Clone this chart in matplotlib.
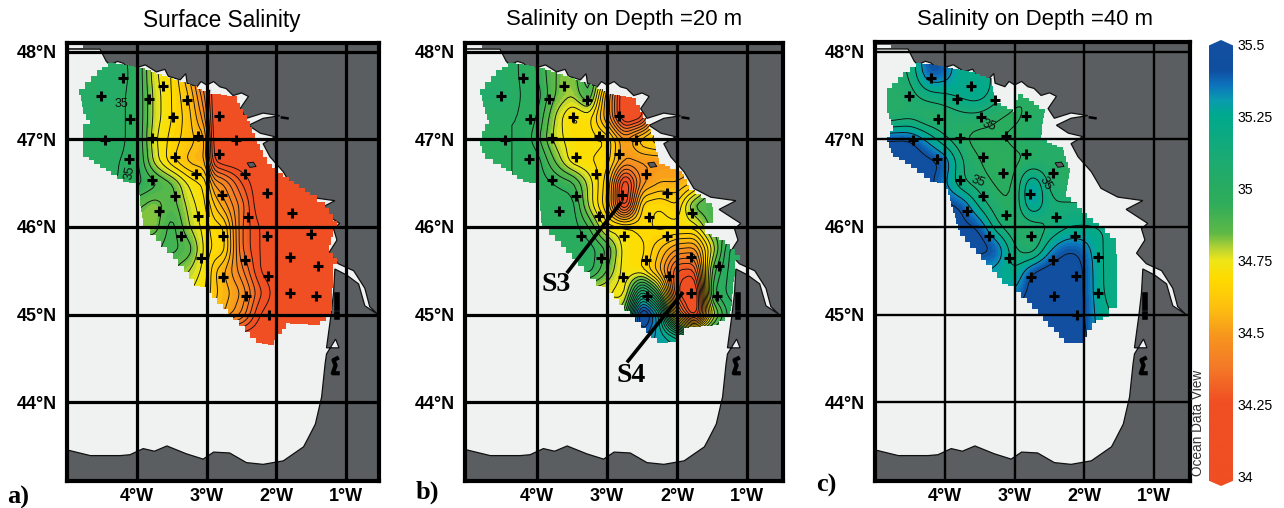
import numpy as np
import matplotlib
matplotlib.use("Agg")
import matplotlib.pyplot as plt
from matplotlib.colors import LinearSegmentedColormap, Normalize
from matplotlib.patches import PathPatch, Polygon
from matplotlib.path import Path

plt.rcParams['font.family'] = ['Liberation Sans', 'DejaVu Sans']

# ------------------------- data -------------------------
TITLES = ["Surface Salinity", "Salinity on Depth =20 m", "Salinity on Depth =40 m"]
PANEL_TAGS = ["a)", "b)", "c)"]
LON_TICKS = [-4, -3, -2, -1]
LAT_TICKS = [44, 45, 46, 47, 48]
CBAR_TICKS = [34, 34.25, 34.5, 34.75, 35, 35.25, 35.5]
CBAR_LABELS = ["34", "34.25", "34.5", "34.75", "35", "35.25", "35.5"]

LATS = [48.0, 47.75, 47.5, 47.25, 47.0, 46.75, 46.5, 46.25, 46.0, 45.75, 45.5, 45.25, 45.0, 44.75, 44.5]
LONS = [-5, -4.75, -4.5, -4.25, -4, -3.75, -3.5, -3.25, -3, -2.75, -2.5, -2.25, -2, -1.75, -1.5, -1.25, -1]
LONS_A = [-5, -4.75, -4.5, -4.25, -4, -3.75, -3.5, -3.25, -3, -2.92, -2.75, -2.5, -2.25, -2, -1.75, -1.5, -1.25, -1]

SAL_A = [
 [35.02,35.02,35.02,35.02,34.96,34.76,34.70,34.55,34.30,34.20,34.20,34.20,34.20,34.20,34.20,34.20,34.20,34.20],
 [35.02,35.02,35.02,35.04,34.96,34.76,34.70,34.55,34.30,34.20,34.20,34.20,34.20,34.20,34.20,34.20,34.20,34.20],
 [35.02,35.02,35.02,35.02,34.96,34.78,34.70,34.60,34.38,34.20,34.20,34.20,34.20,34.20,34.20,34.20,34.20,34.20],
 [35.04,35.02,35.02,35.02,34.96,34.78,34.70,34.62,34.45,34.20,34.20,34.20,34.20,34.20,34.20,34.20,34.20,34.20],
 [35.00,35.02,35.02,35.02,34.96,34.76,34.68,34.62,34.56,34.20,34.20,34.20,34.20,34.20,34.20,34.20,34.20,34.20],
 [35.00,35.02,35.02,35.00,34.97,34.78,34.66,34.58,34.55,34.25,34.20,34.20,34.20,34.20,34.20,34.20,34.20,34.20],
 [35.00,35.00,35.00,35.00,34.97,34.92,34.86,34.74,34.68,34.50,34.45,34.30,34.20,34.20,34.20,34.20,34.20,34.20],
 [34.90,34.90,34.90,34.90,34.86,34.82,34.88,34.78,34.70,34.62,34.52,34.38,34.20,34.20,34.20,34.20,34.20,34.20],
 [34.82,34.82,34.82,34.82,34.82,34.82,34.93,34.80,34.72,34.68,34.66,34.35,34.25,34.20,34.20,34.20,34.20,34.20],
 [34.90,34.90,34.90,34.90,34.90,34.90,34.92,34.88,34.72,34.70,34.68,34.35,34.25,34.20,34.20,34.20,34.20,34.20],
 [34.85,34.85,34.85,34.85,34.85,34.85,34.85,34.80,34.72,34.62,34.55,34.42,34.25,34.20,34.20,34.20,34.20,34.20],
 [34.80,34.80,34.80,34.80,34.80,34.80,34.80,34.75,34.70,34.62,34.58,34.50,34.32,34.22,34.20,34.20,34.20,34.20],
 [34.70,34.70,34.70,34.70,34.70,34.70,34.70,34.70,34.62,34.60,34.55,34.45,34.25,34.20,34.20,34.20,34.20,34.20],
 [34.20,34.20,34.20,34.20,34.20,34.20,34.20,34.20,34.20,34.20,34.20,34.20,34.20,34.20,34.20,34.20,34.20,34.20],
 [34.20,34.20,34.20,34.20,34.20,34.20,34.20,34.20,34.20,34.20,34.20,34.20,34.20,34.20,34.20,34.20,34.20,34.20],
]
SAL_B = [
 [35.02,35.02,35.02,35.00,34.95,34.85,34.82,34.95,34.70,34.20,34.20,34.60,34.60,34.60,34.60,34.60,34.60],
 [35.02,35.02,35.02,35.00,34.95,34.85,34.82,34.95,34.70,34.20,34.20,34.60,34.60,34.60,34.60,34.60,34.60],
 [35.05,35.05,35.05,35.00,34.98,34.85,34.80,34.92,34.50,34.15,34.20,34.60,34.60,34.60,34.60,34.60,34.60],
 [35.00,35.00,35.00,35.00,34.95,34.80,34.68,34.72,34.50,34.15,34.22,34.65,34.65,34.65,34.65,34.65,34.65],
 [35.00,35.00,35.00,35.00,34.92,34.78,34.72,34.72,34.70,34.50,34.65,34.70,34.70,34.70,34.70,34.70,34.70],
 [35.00,35.00,35.00,35.00,34.98,34.85,34.72,34.70,34.68,34.50,34.50,34.50,34.50,34.50,34.50,34.50,34.50],
 [35.00,35.00,35.00,35.00,34.98,34.95,34.92,34.78,34.62,34.15,34.48,34.55,34.55,34.60,34.88,34.88,34.88],
 [35.00,35.00,35.00,35.00,34.98,34.98,34.98,34.78,34.60,34.15,34.68,34.70,34.65,34.88,34.90,34.90,34.90],
 [34.98,34.98,34.98,34.98,34.98,34.98,34.98,34.90,34.72,34.72,34.68,34.72,34.72,34.72,34.88,34.90,34.90],
 [35.00,35.00,35.00,35.00,35.00,35.00,35.00,34.98,34.90,34.72,34.72,34.60,34.50,34.48,34.75,35.02,35.02],
 [34.98,34.98,34.98,34.98,34.98,34.98,34.98,34.98,34.85,34.72,34.70,34.55,34.28,34.28,34.88,35.02,35.02],
 [34.75,34.75,34.75,34.75,34.75,34.75,34.75,34.75,34.75,34.72,35.15,34.85,34.25,34.10,34.95,35.02,35.02],
 [34.75,34.75,34.75,34.75,34.75,34.75,34.75,34.75,34.75,34.85,35.55,35.25,34.50,34.15,34.75,34.98,34.98],
 [35.30,35.30,35.30,35.30,35.30,35.30,35.30,35.30,35.30,35.35,35.35,35.28,35.22,35.00,35.00,35.00,35.00],
 [35.28,35.28,35.28,35.28,35.28,35.28,35.28,35.28,35.28,35.28,35.28,35.28,35.28,35.28,35.28,35.28,35.28],
]
SAL_C = [
 [35.10,35.05,35.10,35.42,35.38,35.20,35.20,35.20,35.20,35.20,35.20,35.20,35.20,35.20,35.20,35.20,35.20],
 [35.10,35.05,35.10,35.42,35.38,35.20,35.20,35.20,35.20,35.10,35.00,35.00,35.00,35.00,35.00,35.00,35.00],
 [35.05,35.02,35.05,35.15,35.18,35.25,35.28,35.15,35.00,35.00,34.98,34.98,34.98,34.98,34.98,34.98,34.98],
 [35.00,35.00,35.05,34.96,35.00,35.05,35.05,34.98,34.98,35.02,35.05,35.05,35.05,35.05,35.05,35.05,35.05],
 [35.42,35.44,35.44,35.30,35.10,35.00,34.95,35.00,35.02,35.05,35.05,35.05,35.05,35.05,35.05,35.05,35.05],
 [35.44,35.44,35.44,35.44,35.42,35.10,35.00,34.93,34.98,34.98,35.02,35.02,35.02,35.02,35.02,35.02,35.02],
 [35.44,35.44,35.44,35.44,35.30,35.08,35.05,34.98,34.98,35.38,35.05,35.00,35.00,35.00,35.00,35.00,35.00],
 [35.44,35.44,35.44,35.44,35.44,35.42,35.15,35.02,35.00,35.36,35.12,35.12,35.12,35.12,35.12,35.12,35.12],
 [35.42,35.42,35.42,35.42,35.42,35.42,35.42,35.10,35.00,35.02,35.08,35.18,35.20,35.20,35.20,35.20,35.20],
 [35.45,35.45,35.45,35.45,35.45,35.45,35.45,35.44,35.10,34.96,35.30,35.42,35.38,35.18,35.18,35.18,35.18],
 [35.30,35.30,35.30,35.30,35.30,35.30,35.30,35.25,35.18,35.44,35.46,35.44,35.42,35.18,35.18,35.18,35.18],
 [35.30,35.30,35.30,35.30,35.30,35.30,35.30,35.30,35.30,35.46,35.46,35.44,35.42,35.18,35.18,35.18,35.18],
 [35.46,35.46,35.46,35.46,35.46,35.46,35.46,35.46,35.46,35.46,35.46,35.46,35.42,35.22,35.18,35.18,35.18],
 [35.46,35.46,35.46,35.46,35.46,35.46,35.46,35.46,35.46,35.46,35.46,35.46,35.44,35.22,35.22,35.22,35.22],
 [35.46,35.46,35.46,35.46,35.46,35.46,35.46,35.46,35.46,35.46,35.46,35.46,35.46,35.46,35.46,35.46,35.46],
]

STATION_LON = [-4.20,-4.51,-4.10,-4.46,-4.12,-3.83,-3.62,-3.48,-3.79,-3.45,-3.78,-3.45,-3.69,-3.37,-3.08,-3.12,-3.16,-3.12,-2.76,-2.77,-3.28,-2.83,-2.58,-2.83,-2.45,-2.78,-2.14,-2.40,-2.14,-1.78,-1.50,-1.80,-1.40,-2.12,-2.45,-2.43,-1.80,-1.43,-2.11]
STATION_LAT = [47.70,47.49,47.23,46.99,46.78,47.46,47.61,47.25,47.01,46.80,46.54,46.35,46.18,45.90,45.64,47.04,46.61,46.13,45.90,45.43,47.45,47.27,46.99,46.83,46.61,46.37,46.39,46.11,45.90,46.16,45.92,45.66,45.55,45.44,45.62,45.21,45.25,45.21,45.00]
ABSENT_B = [30, 38]
ABSENT_C = [22, 26, 29, 30, 32, 37]

SEA_LON = [-5.03,-4.53,-4.44,-4.39,-4.28,-4.20,-4.10,-3.96,-3.88,-3.72,-3.60,-3.55,-3.38,-3.30,-3.28,-3.14,-3.08,-3.00,-2.90,-2.81,-2.72,-2.62,-2.50,-2.40,-2.52,-2.43,-2.19,-1.95,-2.19,-2.40,-2.23,-2.02,-2.19,-2.09,-1.90,-1.76,-1.52,-1.16,-1.40,-1.09,-1.18,-1.13,-1.25,-1.11,-0.89,-0.73,-0.66,-0.54,-0.73,-0.82,-0.99,-1.16,-1.18,-1.22,-1.28,-1.10,-1.15,-1.28,-1.30,-1.35,-1.44,-1.55,-1.61,-1.90,-2.19,-2.43,-2.67,-2.90,-3.05,-3.29,-3.57,-3.75,-3.91,-4.10,-4.24,-4.67,-5.03]
SEA_LAT = [48.03,48.03,47.89,47.85,47.89,47.87,47.80,47.83,47.85,47.77,47.80,47.72,47.68,47.75,47.64,47.60,47.66,47.62,47.66,47.60,47.58,47.50,47.53,47.49,47.35,47.24,47.30,47.27,47.24,47.16,47.07,47.03,46.95,46.80,46.63,46.44,46.34,46.30,46.20,46.04,45.98,45.85,45.70,45.58,45.50,45.30,45.09,45.00,45.10,45.35,45.45,45.52,45.24,44.97,44.62,44.62,44.72,44.55,44.44,44.06,43.75,43.58,43.49,43.33,43.29,43.31,43.42,43.43,43.35,43.41,43.50,43.44,43.47,43.40,43.39,43.39,43.46]

DOMAIN_A_LON = [-4.83,-4.58,-4.41,-4.20,-3.96,-3.72,-3.38,-3.14,-2.98,-2.62,-2.52,-2.38,-2.28,-2.14,-1.90,-1.52,-1.30,-1.13,-1.18,-1.25,-1.13,-1.18,-1.21,-1.37,-1.80,-2.04,-2.21,-2.62,-3.00,-3.10,-3.33,-3.81,-3.91,-3.98,-4.12,-4.53,-4.77,-4.77,-4.68,-4.77]
DOMAIN_A_LAT = [47.58,47.79,47.87,47.85,47.81,47.75,47.66,47.58,47.52,47.49,47.35,47.14,46.95,46.72,46.57,46.36,46.22,46.00,45.88,45.70,45.58,45.56,44.97,44.88,44.90,44.65,44.67,45.00,45.31,45.33,45.56,45.98,46.04,46.50,46.51,46.72,46.84,47.18,47.22,47.37]
DOMAIN_B_LON = [-4.82,-4.58,-4.41,-4.20,-3.96,-3.72,-3.38,-3.14,-2.98,-2.64,-2.48,-2.33,-2.26,-1.93,-1.83,-1.50,-1.48,-1.60,-1.31,-1.10,-1.17,-1.24,-1.40,-1.83,-1.98,-2.21,-2.60,-2.98,-3.07,-3.33,-3.83,-3.93,-3.98,-4.12,-4.52,-4.74,-4.82,-4.74,-4.68,-4.74]
DOMAIN_B_LAT = [47.58,47.79,47.87,47.85,47.81,47.75,47.66,47.58,47.52,47.47,47.24,46.99,46.72,46.61,46.42,46.23,46.04,45.92,45.81,45.62,45.50,44.97,44.88,44.85,44.69,44.67,44.97,45.31,45.33,45.56,45.98,46.05,46.50,46.51,46.72,46.84,47.00,47.18,47.22,47.37]
DOMAIN_C_LON = [-4.83,-4.60,-4.41,-4.03,-3.65,-3.33,-3.29,-3.02,-2.95,-2.57,-2.62,-2.31,-2.21,-2.26,-1.88,-1.54,-1.53,-1.64,-1.83,-2.02,-2.21,-2.59,-2.98,-3.10,-3.33,-3.79,-3.91,-3.98,-4.12,-4.49,-4.75,-4.83,-4.75,-4.83]
DOMAIN_C_LAT = [47.58,47.77,47.87,47.83,47.77,47.68,47.41,47.31,47.52,47.30,46.99,46.88,46.61,46.34,46.04,45.81,45.07,44.97,44.90,44.67,44.67,44.99,45.33,45.35,45.56,45.96,46.30,46.50,46.51,46.72,46.84,47.03,47.16,47.37]

FRONT_A_LON = [-2.97,-2.99,-2.98,-3.00,-2.97,-2.99,-2.98]
FRONT_A_LAT = [47.55,47.30,47.05,46.85,46.60,46.35,46.13]
S3_LON = [-3.56, -2.81]
S3_LAT = [45.49, 46.27]
S4_LON = [-2.70, -1.93]
S4_LAT = [44.47, 45.24]
ISLET_LON = [-1.13, -1.13]
ISLET_LAT = [45.22, 45.08]
ISLET2_LON = [-1.13, -1.13]
ISLET2_LAT = [45.01, 44.97]
ARC_LON = [-1.13, -1.18, -1.15, -1.19, -1.12]
ARC_LAT = [44.50, 44.48, 44.42, 44.33, 44.33]
YEU_LON = [-2.42, -2.33, -2.29, -2.38]
YEU_LAT = [46.73, 46.74, 46.69, 46.68]
NOIRMOUTIER_LON = [-1.92, -1.84]
NOIRMOUTIER_LAT = [47.25, 47.24]
CONTOUR_TEXT = {0: [(-4.22, 47.40, "35", 0), (-4.10, 46.62, "35", 80)],
                2: [(-3.36, 47.16, "35", -20), (-3.52, 46.52, "35", -20), (-2.56, 46.50, "35", -60)]}

COLOR_VALUES = [34.0, 34.28, 34.4, 34.5, 34.6, 34.7, 34.76, 34.8, 34.85, 34.95, 35.0, 35.1, 35.25, 35.3, 35.35, 35.4, 35.5]
COLOR_HEX = ["#f04e23", "#f04e23", "#f47a28", "#f7941e", "#fdc010", "#ffdc00", "#eee61a", "#b5d334", "#5fb946",
             "#2fad5b", "#29ac60", "#1bab73", "#00a98f", "#0a9bb0", "#0d72bc", "#104fa0", "#134fa2"]

LAND = "#5a5e60"
SEA = "#f0f2f2"

cmap = LinearSegmentedColormap.from_list(
    "odv", [((v - 34.0) / 1.5, c) for v, c in zip(COLOR_VALUES, COLOR_HEX)], N=512)
norm = Normalize(34.0, 35.5)


def staircase(lons, lats, dx=0.075, dy=0.06):
    xs, ys = [], []
    n = len(lons)
    for i in range(n):
        x0, y0, x1, y1 = lons[i], lats[i], lons[(i + 1) % n], lats[(i + 1) % n]
        steps = max(1, int(max(abs(x1 - x0) / dx, abs(y1 - y0) / dy)))
        for k in range(steps):
            xs += [x0 + (x1 - x0) * k / steps, x0 + (x1 - x0) * (k + 1) / steps]
            ys += [y0 + (y1 - y0) * k / steps, y0 + (y1 - y0) * k / steps]
    return np.column_stack([xs, ys])


def soften(lons, rows, width):
    fx = np.arange(-5.0, -0.999, 0.04)
    fy = np.arange(48.0, 44.499, -0.04)
    z = np.array(rows)
    a = np.array([np.interp(fx, lons, r) for r in z])
    b = np.array([np.interp(fy[::-1], LATS[::-1], c[::-1])[::-1] for c in a.T]).T
    kernel = np.ones(width) / width
    for _ in range(2):
        b = np.pad(b, width, mode="edge")
        b = np.apply_along_axis(lambda m: np.convolve(m, kernel, mode="same"), 0, b)
        b = np.apply_along_axis(lambda m: np.convolve(m, kernel, mode="same"), 1, b)
        b = b[width:-width, width:-width]
    return fx, fy, b


fig = plt.figure(figsize=(12.84, 5.08), dpi=100, facecolor="white")
W, H = 1284.0, 508.0
PANELS = [
    dict(box=(67, 43, 379, 481), xlim=(-5.004, -0.527), ylim=(43.10, 48.10), grid=2.3, blur=3, tsize=16.3,
         lons=LONS_A, sal=SAL_A, dom=(DOMAIN_A_LON, DOMAIN_A_LAT), absent=[], tagx=7, tagy=497, title_x=222,
         lines=np.arange(34.25, 35.01, 0.05)),
    dict(box=(465, 43, 783, 481), xlim=(-5.03, -0.487), ylim=(43.10, 48.10), grid=2.3, blur=3, tsize=15.9,
         lons=LONS, sal=SAL_B, dom=(DOMAIN_B_LON, DOMAIN_B_LAT), absent=ABSENT_B, tagx=416, tagy=492, title_x=624,
         lines=np.arange(34.25, 35.46, 0.05)),
    dict(box=(875, 42, 1190, 481), xlim=(-5.004, -0.483), ylim=(43.10, 48.11), grid=1.7, blur=5, tsize=15.9,
         lons=LONS, sal=SAL_C, dom=(DOMAIN_C_LON, DOMAIN_C_LAT), absent=ABSENT_C, tagx=816, tagy=485, title_x=1035,
         lines=[35.0, 35.1, 35.2, 35.3, 35.4]),
]
levels_fill = np.arange(34.0, 35.501, 0.02)

for i, p in enumerate(PANELS):
    x0, y0, x1, y1 = p["box"]
    ax = fig.add_axes([x0 / W, 1 - y1 / H, (x1 - x0) / W, (y1 - y0) / H], facecolor=LAND)
    ax.set_xlim(*p["xlim"])
    ax.set_ylim(*p["ylim"])
    ax.add_patch(Polygon(np.column_stack([SEA_LON, SEA_LAT]), closed=True, facecolor=SEA,
                         edgecolor="#101010", lw=0.9, zorder=1))
    ax.add_patch(Polygon([(-5.03, 48.04), (-4.78, 48.04), (-4.78, 48.08), (-5.03, 48.08)], closed=True,
                         facecolor=SEA, edgecolor="none", zorder=1))
    clip = PathPatch(Path(staircase(*p["dom"])), transform=ax.transData, facecolor="none", edgecolor="none")
    ax.add_patch(clip)
    fx, fy, z = soften(p["lons"], p["sal"], p["blur"])
    cf = ax.contourf(fx, fy, z, levels=levels_fill, cmap=cmap, norm=norm, extend="both", zorder=1.2)
    cf.set_clip_path(clip)
    cl = ax.contour(fx, fy, z, levels=p["lines"], colors="#101010", linewidths=0.65, zorder=1.3)
    cl.set_clip_path(clip)
    if i == 0:
        ax.plot(FRONT_A_LON, FRONT_A_LAT, color="#101010", lw=2.2, zorder=1.4)
    ax.plot(ISLET_LON, ISLET_LAT, color="black", lw=4, zorder=1.5)
    ax.plot(ISLET2_LON, ISLET2_LAT, color="black", lw=4, zorder=1.5)
    ax.plot(ARC_LON, ARC_LAT, color="black", lw=3, zorder=1.5)
    ax.fill(YEU_LON, YEU_LAT, facecolor=LAND, edgecolor="black", lw=0.6, zorder=1.5)
    ax.plot(NOIRMOUTIER_LON, NOIRMOUTIER_LAT, color="black", lw=1.8, zorder=1.5)
    for (tx, ty, s, rot) in CONTOUR_TEXT.get(i, []):
        ax.text(tx, ty, s, fontsize=9, rotation=rot, ha="center", va="center", zorder=1.6, color="#101010")
    keep = [k for k in range(len(STATION_LON)) if k not in p["absent"]]
    ax.plot(np.array(STATION_LON)[keep], np.array(STATION_LAT)[keep], ls="none", marker="+",
            ms=7, mew=2.2, color="black", zorder=3)
    ax.set_xticks(LON_TICKS)
    ax.set_xticklabels([f"{abs(v)}°W" for v in LON_TICKS], fontsize=13, fontweight="bold")
    ax.set_yticks(LAT_TICKS)
    ax.set_yticklabels([f"{v}°N" for v in LAT_TICKS], fontsize=13, fontweight="bold")
    ax.tick_params(length=0, pad=5)
    ax.tick_params(axis="y", pad=7)
    ax.grid(True, color="black", lw=p["grid"], zorder=2.5)
    ax.set_axisbelow(False)
    for s in ax.spines.values():
        s.set_linewidth(3.0)
        s.set_color("black")
    fig.text(p["title_x"] / W, 1 - 20 / H, TITLES[i], fontsize=p["tsize"], ha="center", va="center")
    fig.text(p["tagx"] / W, 1 - p["tagy"] / H, PANEL_TAGS[i], fontsize=19, fontweight="bold",
             family="Liberation Serif", ha="left", va="center")
    if i == 1:
        ax.plot(S3_LON, S3_LAT, color="black", lw=2.6, zorder=4)
        ax.plot(S4_LON, S4_LAT, color="black", lw=2.6, zorder=4)
        ax.text(-3.73, 45.34, "S3", fontsize=20, fontweight="bold", family="Liberation Serif",
                ha="center", va="center", zorder=5)
        ax.text(-2.65, 44.31, "S4", fontsize=20, fontweight="bold", family="Liberation Serif",
                ha="center", va="center", zorder=5)

# colour bar
cb_top_px, cb_bot_px = 40.0, 486.0
px_per_unit = 288.0
v_top = 35.5 + (44 - cb_top_px) / px_per_unit
v_bot = 34.0 - (cb_bot_px - 476) / px_per_unit
cax = fig.add_axes([1209 / W, 1 - cb_bot_px / H, 24 / W, (cb_bot_px - cb_top_px) / H])
cax.set_xlim(0, 1)
cax.set_ylim(v_bot, v_top)
shape = Polygon([(0, v_bot + 0.018), (0.5, v_bot), (1, v_bot + 0.018), (1, 35.5 - 0.005),
                 (0.5, v_top), (0, 35.5 - 0.005)], closed=True, transform=cax.transData,
                facecolor="none", edgecolor="none")
cax.add_patch(shape)
vals = np.linspace(34.0, 35.5, 512)[:, None]
im = cax.imshow(vals, origin="lower", extent=(0, 1, 34.0, 35.5), aspect="auto", cmap=cmap, norm=norm)
im.set_extent((0, 1, v_bot, v_top))
im.set_clip_path(shape)
cax.set_xticks([])
cax.yaxis.tick_right()
cax.set_yticks(CBAR_TICKS)
cax.set_yticklabels(CBAR_LABELS, fontsize=10.2)
cax.tick_params(length=0, pad=3.5)
for s in cax.spines.values():
    s.set_visible(False)
fig.text(1198 / W, 1 - 423 / H, "Ocean Data View", rotation=90, fontsize=9.8, color="#333333",
         ha="center", va="center")

fig.savefig("out.png", dpi=100)
